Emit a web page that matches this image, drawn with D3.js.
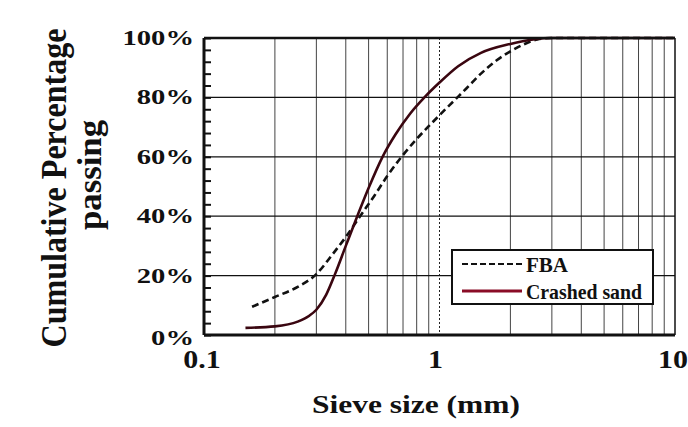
<!DOCTYPE html>
<html>
<head>
<meta charset="utf-8">
<script src="https://cdn.jsdelivr.net/npm/d3@7"></script>
<style>
  body { margin: 0; background: #fff; }
  text { font-family: "Liberation Serif", "DejaVu Serif", serif; fill: #111; }
</style>
</head>
<body>
<div class="chart"></div>
<script>
var svgWidth = 688;
var svgHeight = 427;

var margin = { top: 38, right: 13, bottom: 92, left: 204 };
var width = svgWidth - margin.left - margin.right;
var height = svgHeight - margin.top - margin.bottom;

// data
var fbaSize = [0.16, 0.2, 0.25, 0.3, 0.35, 0.4, 0.46, 0.53, 0.6, 0.69, 0.8, 0.9, 1.0, 1.15, 1.3, 1.5, 1.75, 2.0, 2.3, 2.6, 3.0, 10];
var fbaPass = [9.5, 12.8, 16.2, 20.5, 27, 33, 40, 47, 53.5, 60, 66, 70.3, 74, 78.8, 83, 88, 92.5, 95.5, 98, 99.5, 100, 100];
var sandSize = [0.15, 0.2, 0.25, 0.28, 0.3, 0.33, 0.36, 0.4, 0.45, 0.5, 0.573, 0.65, 0.75, 0.863, 1.0, 1.2, 1.5, 2.0, 2.5, 3.0, 10];
var sandPass = [2.4, 2.9, 4.5, 6.5, 8.5, 13.5, 20.5, 30, 40.5, 49.5, 60, 67.5, 74.5, 80, 85, 90.5, 95, 98, 99.5, 100, 100];
var xTicks = [0.1, 1, 10];
var yTicks = [0, 20, 40, 60, 80, 100];
var seriesNames = ["FBA", "Crashed sand"];

var sandColor = "#3a0610";

var svg = d3.select(".chart")
  .append("svg")
  .attr("width", svgWidth)
  .attr("height", svgHeight);

var chartGroup = svg.append("g")
  .attr("transform", `translate(${margin.left}, ${margin.top})`);

var x = d3.scaleLog().domain([0.1, 10]).range([0, width]);
var y = d3.scaleLinear().domain([0, 100]).range([height, 0]);

// vertical grid (log minors), the line at 1 is dotted
var minorX = [];
[0.1, 1].forEach(function(dec) {
  for (var k = 2; k <= 9; k++) minorX.push(dec * k);
});
chartGroup.selectAll(".vgrid")
  .data(minorX)
  .enter()
  .append("line")
  .attr("x1", d => x(d)).attr("x2", d => x(d))
  .attr("y1", 0).attr("y2", height)
  .attr("stroke", "#444")
  .attr("stroke-width", 1);

chartGroup.append("line")
  .attr("x1", x(1)).attr("x2", x(1))
  .attr("y1", 0).attr("y2", height)
  .attr("stroke", "#222")
  .attr("stroke-width", 1)
  .attr("stroke-dasharray", "2,2");

// horizontal grid
chartGroup.selectAll(".hgrid")
  .data([20, 40, 60, 80])
  .enter()
  .append("line")
  .attr("x1", 0).attr("x2", width)
  .attr("y1", d => y(d)).attr("y2", d => y(d))
  .attr("stroke", "#111")
  .attr("stroke-width", 1.2);

// minor ticks on left axis, pointing inward
chartGroup.append("g")
  .call(d3.axisRight(y).tickValues(d3.range(0, 101, 4)).tickSize(7).tickFormat(""))
  .call(g => g.select(".domain").remove())
  .selectAll("line").attr("stroke", "#111").attr("stroke-width", 2);

// lines
var line = d3.line()
  .x(d => x(d[0]))
  .y(d => y(d[1]))
  .curve(d3.curveMonotoneX);

chartGroup.append("path")
  .datum(d3.zip(fbaSize, fbaPass))
  .attr("d", line)
  .attr("fill", "none")
  .attr("stroke", "#111")
  .attr("stroke-width", 2.6)
  .attr("stroke-dasharray", "7,4");

chartGroup.append("path")
  .datum(d3.zip(sandSize, sandPass))
  .attr("d", line)
  .attr("fill", "none")
  .attr("stroke", sandColor)
  .attr("stroke-width", 2.6);

// frame
chartGroup.append("line").attr("x1", 0).attr("x2", width).attr("y1", 0).attr("y2", 0)
  .attr("stroke", "#111").attr("stroke-width", 2.5);
chartGroup.append("line").attr("x1", 0).attr("x2", width).attr("y1", height).attr("y2", height)
  .attr("stroke", "#111").attr("stroke-width", 3);
chartGroup.append("line").attr("x1", 0).attr("x2", 0).attr("y1", 0).attr("y2", height)
  .attr("stroke", "#111").attr("stroke-width", 3);
chartGroup.append("line").attr("x1", width).attr("x2", width).attr("y1", 0).attr("y2", height)
  .attr("stroke", "#111").attr("stroke-width", 1.5);

// y tick labels
chartGroup.selectAll(".ylab")
  .data(yTicks)
  .enter()
  .append("text")
  .attr("transform", d => `translate(-10, ${y(d) + 7 + (d === 0 ? 3 : 0)}) scale(1.3, 1)`)
  .attr("text-anchor", "end")
  .attr("font-size", "22px")
  .attr("font-weight", "bold")
  .text(d => d + "%");

// x tick labels
chartGroup.selectAll(".xlab")
  .data(xTicks)
  .enter()
  .append("text")
  .attr("transform", d => `translate(${x(d) - (d === 1 ? 4 : 2)}, ${height + 33}) scale(1.2, 1)`)
  .attr("text-anchor", "middle")
  .attr("font-size", "25px")
  .attr("font-weight", "bold")
  .text(d => d);

// axis titles
svg.append("text")
  .attr("x", 416)
  .attr("y", 413)
  .attr("text-anchor", "middle")
  .attr("font-size", "25px")
  .attr("font-weight", "bold")
  .attr("textLength", 208)
  .attr("lengthAdjust", "spacingAndGlyphs")
  .text("Sieve size (mm)");

svg.append("text")
  .attr("transform", "translate(66, 188) rotate(-90) scale(1, 1.2)")
  .attr("text-anchor", "middle")
  .attr("font-size", "30px")
  .attr("font-weight", "bold")
  .attr("textLength", 319)
  .attr("lengthAdjust", "spacingAndGlyphs")
  .text("Cumulative Percentage");

svg.append("text")
  .attr("transform", "translate(101, 175) rotate(-90) scale(1, 1.2)")
  .attr("text-anchor", "middle")
  .attr("font-size", "28px")
  .attr("font-weight", "bold")
  .attr("textLength", 110)
  .attr("lengthAdjust", "spacingAndGlyphs")
  .text("passing");

// legend
var legend = svg.append("g").attr("transform", "translate(452, 250)");
legend.append("rect")
  .attr("width", 201).attr("height", 54)
  .attr("fill", "#fff")
  .attr("stroke", "#111")
  .attr("stroke-width", 2);

var legendRows = legend.selectAll(".row")
  .data(seriesNames)
  .enter()
  .append("g")
  .attr("transform", (d, i) => `translate(0, ${14 + i * 27})`);

legendRows.append("line")
  .attr("x1", 10).attr("x2", 70)
  .attr("y1", 0).attr("y2", 0)
  .attr("stroke", (d, i) => i === 0 ? "#111" : "#8a0c26")
  .attr("stroke-width", (d, i) => i === 0 ? 2 : 3)
  .attr("stroke-dasharray", (d, i) => i === 0 ? "6,3" : null);

legendRows.append("text")
  .attr("x", 74)
  .attr("y", 8)
  .attr("font-size", "21px")
  .attr("font-weight", "bold")
  .attr("textLength", (d, i) => i === 0 ? 42 : 116)
  .attr("lengthAdjust", "spacingAndGlyphs")
  .text(d => d);
</script>
</body>
</html>
